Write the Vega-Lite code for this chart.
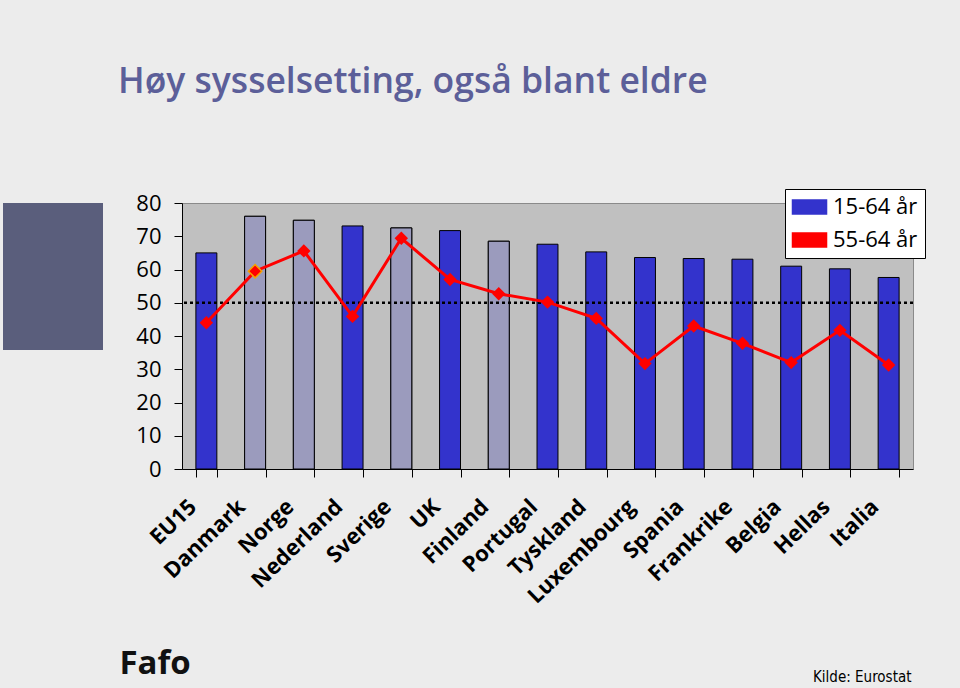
{
  "$schema": "https://vega.github.io/schema/vega-lite/v6.json",
  "background": "#ececec",
  "padding": {"left": 3, "top": 65, "right": 40, "bottom": 8},
  "config": {"font": "Open Sans", "axisY": {"labelOverlap": false, "labelSeparation": 0, "tickCount": 9}},
  "title": {"text": "Høy sysselsetting, også blant eldre", "anchor": "start", "dx": 115, "font": "Open Sans", "fontSize": 35.5, "fontWeight": 600, "color": "#5c5f99", "offset": 88},
  "bounds": "full",
  "align": "none",
  "spacing": 15,
  "hconcat": [
    {
      "width": 100,
      "height": 147,
      "data": {"values": []},
      "mark": "point",
      "view": {"fill": "#5a5e7c", "stroke": null}
    },
    {
      "width": 731,
      "height": 266,
      "view": {"fill": "#c0c0c0", "stroke": "#8a8a8a"},
      "data": {
        "values": [
          {"land": "EU15", "alle": 65.0, "eldre": 44.0, "nordisk": false},
          {"land": "Danmark", "alle": 76.0, "eldre": 59.5, "nordisk": true},
          {"land": "Norge", "alle": 74.8, "eldre": 65.6, "nordisk": true},
          {"land": "Nederland", "alle": 73.1, "eldre": 45.9, "nordisk": false},
          {"land": "Sverige", "alle": 72.5, "eldre": 69.4, "nordisk": true},
          {"land": "UK", "alle": 71.7, "eldre": 57.0, "nordisk": false},
          {"land": "Finland", "alle": 68.5, "eldre": 52.7, "nordisk": true},
          {"land": "Portugal", "alle": 67.6, "eldre": 50.2, "nordisk": false},
          {"land": "Tyskland", "alle": 65.3, "eldre": 45.3, "nordisk": false},
          {"land": "Luxembourg", "alle": 63.6, "eldre": 31.7, "nordisk": false},
          {"land": "Spania", "alle": 63.3, "eldre": 43.0, "nordisk": false},
          {"land": "Frankrike", "alle": 63.1, "eldre": 37.8, "nordisk": false},
          {"land": "Belgia", "alle": 61.0, "eldre": 32.0, "nordisk": false},
          {"land": "Hellas", "alle": 60.2, "eldre": 41.7, "nordisk": false},
          {"land": "Italia", "alle": 57.6, "eldre": 31.3, "nordisk": false}
        ]
      },
      "layer": [
        {
          "mark": {"type": "bar", "stroke": "#000000", "strokeWidth": 1},
          "encoding": {
            "x": {
              "field": "land", "type": "nominal", "sort": null,
              "scale": {"paddingInner": 0.57, "paddingOuter": 0.285},
              "axis": {
                "title": "Kilde: Eurostat", "titleX": 729, "titleY": 212, "titleAlign": "right", "titleBaseline": "alphabetic",
                "titleFont": "Liberation Sans Narrow, DejaVu Sans Condensed, sans-serif", "titleFontSize": 15, "titleFontWeight": "normal", "titleColor": "#000000",
                "labelAngle": -44, "labelAlign": "right", "labelBaseline": "middle", "labelFontWeight": "bold", "labelFontSize": 22,
                "labelOffset": -14, "labelPadding": 26, "labelColor": "#000000", "labelOverlap": false, "labelLimit": 300,
                "tickBand": "extent", "tickSize": 8, "domainColor": "#000000", "tickColor": "#000000"
              }
            },
            "y": {
              "field": "alle", "type": "quantitative",
              "scale": {"domain": [0, 80], "nice": false},
              "axis": {
                "values": [0, 10, 20, 30, 40, 50, 60, 70, 80], "tickCount": 9, "grid": false, "tickSize": 8, "labelPadding": 13, "labelOverlap": false,
                "labelFontSize": 22, "labelColor": "#000000", "domainColor": "#000000", "tickColor": "#000000",
                "title": "Fafo", "titleAngle": 0, "titleX": -63, "titleY": 470, "titleBaseline": "alphabetic", "titleAlign": "left",
                "titleFont": "Open Sans", "titleFontSize": 33, "titleFontWeight": "bold", "titleColor": "#111111"
              }
            },
            "color": {
              "datum": "15-64 år",
              "scale": {"domain": ["15-64 år", "55-64 år"], "range": ["#3333cc", "#ff0000"]},
              "legend": {
                "title": null, "orient": "none", "direction": "vertical", "legendX": 782, "legendY": -14,
                "fillColor": "#ffffff", "strokeColor": "#000000", "padding": 7,
                "labelFontSize": 22, "labelColor": "#000000", "labelFont": "Open Sans",
                "symbolSize": 196, "symbolType": "M -1.5 -1 L 3.36 -1 L 3.36 1 L -1.5 1 Z", "symbolOpacity": 1,
                "labelOffset": 19, "rowPadding": 11
              }
            }
          }
        },
        {
          "transform": [{"filter": "datum.nordisk"}],
          "mark": {"type": "bar", "color": "#9b9bbd", "stroke": "#000000", "strokeWidth": 1},
          "encoding": {
            "x": {"field": "land", "type": "nominal", "sort": null},
            "y": {
              "field": "alle", "type": "quantitative",
              "axis": {
                "values": [0, 10, 20, 30, 40, 50, 60, 70, 80], "tickCount": 9, "grid": false, "tickSize": 8, "labelPadding": 13, "labelOverlap": false,
                "labelFontSize": 22, "labelColor": "#000000", "domainColor": "#000000", "tickColor": "#000000",
                "title": "Fafo", "titleAngle": 0, "titleX": -63, "titleY": 470, "titleBaseline": "alphabetic", "titleAlign": "left",
                "titleFont": "Open Sans", "titleFontSize": 33, "titleFontWeight": "bold", "titleColor": "#111111"
              }
            }
          }
        },
        {
          "data": {"values": [{"nivaa": 50}]},
          "mark": {"type": "rule", "strokeDash": [3, 3], "strokeWidth": 2.5, "color": "#000000"},
          "encoding": {
            "y": {
              "field": "nivaa", "type": "quantitative",
              "axis": {
                "values": [0, 10, 20, 30, 40, 50, 60, 70, 80], "tickCount": 9, "grid": false, "tickSize": 8, "labelPadding": 13, "labelOverlap": false,
                "labelFontSize": 22, "labelColor": "#000000", "domainColor": "#000000", "tickColor": "#000000",
                "title": "Fafo", "titleAngle": 0, "titleX": -63, "titleY": 470, "titleBaseline": "alphabetic", "titleAlign": "left",
                "titleFont": "Open Sans", "titleFontSize": 33, "titleFontWeight": "bold", "titleColor": "#111111"
              }
            }
          }
        },
        {
          "mark": {"type": "line", "strokeWidth": 3, "point": {"shape": "diamond", "size": 180, "filled": true}},
          "encoding": {
            "x": {"field": "land", "type": "nominal", "sort": null},
            "y": {
              "field": "eldre", "type": "quantitative",
              "axis": {
                "values": [0, 10, 20, 30, 40, 50, 60, 70, 80], "tickCount": 9, "grid": false, "tickSize": 8, "labelPadding": 13, "labelOverlap": false,
                "labelFontSize": 22, "labelColor": "#000000", "domainColor": "#000000", "tickColor": "#000000",
                "title": "Fafo", "titleAngle": 0, "titleX": -63, "titleY": 470, "titleBaseline": "alphabetic", "titleAlign": "left",
                "titleFont": "Open Sans", "titleFontSize": 33, "titleFontWeight": "bold", "titleColor": "#111111"
              }
            },
            "color": {
              "datum": "55-64 år",
              "legend": {
                "title": null, "orient": "none", "direction": "vertical", "legendX": 782, "legendY": -14,
                "fillColor": "#ffffff", "strokeColor": "#000000", "padding": 7,
                "labelFontSize": 22, "labelColor": "#000000", "labelFont": "Open Sans",
                "symbolSize": 196, "symbolType": "M -1.5 -1 L 3.36 -1 L 3.36 1 L -1.5 1 Z", "symbolOpacity": 1,
                "labelOffset": 19, "rowPadding": 11
              }
            }
          }
        },
        {
          "transform": [{"filter": "datum.land === 'Danmark'"}],
          "mark": {"type": "point", "shape": "diamond", "size": 180, "filled": true, "fill": "#ff0000", "stroke": "#f5a500", "strokeWidth": 1.5, "opacity": 1},
          "encoding": {
            "x": {"field": "land", "type": "nominal", "sort": null},
            "y": {"field": "eldre", "type": "quantitative"}
          }
        }
      ]
    }
  ]
}
